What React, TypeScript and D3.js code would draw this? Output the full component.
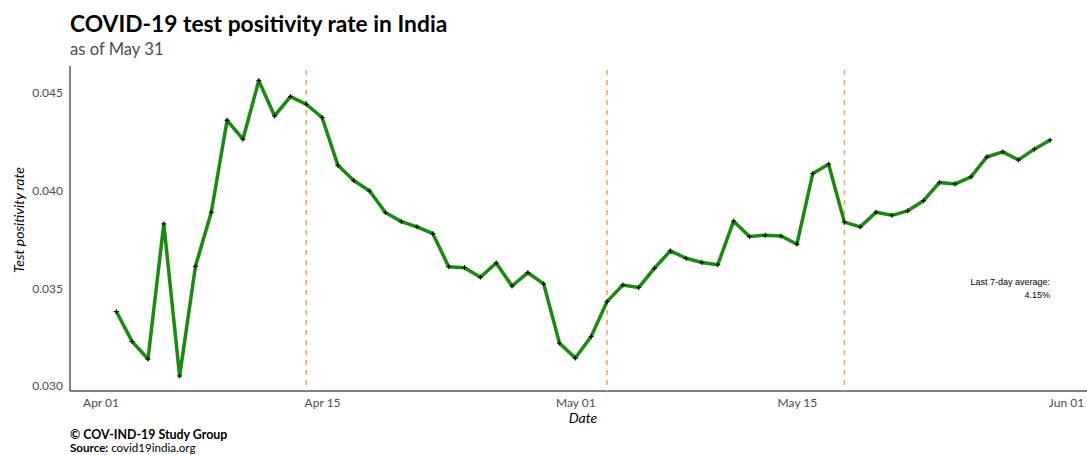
import * as d3 from 'd3';
import { useEffect, useRef } from 'react';

// daily test positivity, Apr 02 .. May 31
const startDate = '2020-04-02';
const positivity = [
  0.03381, 0.03227, 0.03138, 0.0383, 0.03051, 0.03613, 0.0389, 0.04361, 0.04264, 0.04564,
  0.04383, 0.04482, 0.04443, 0.04375, 0.0413, 0.04052, 0.03999, 0.03888, 0.03842, 0.03815,
  0.0378, 0.03611, 0.03606, 0.03557, 0.0363, 0.03512, 0.0358, 0.03523, 0.03219, 0.03143,
  0.03253, 0.03432, 0.03517, 0.03504, 0.03603, 0.03692, 0.03654, 0.03632, 0.03621, 0.03844,
  0.03765, 0.03772, 0.03768, 0.03726, 0.04088, 0.04136, 0.03839, 0.03815, 0.0389, 0.03874,
  0.03897, 0.03949, 0.04042, 0.04035, 0.04071, 0.04173, 0.04199, 0.04158, 0.04213, 0.0426,
];
const phaseDates = ['2020-04-14', '2020-05-03', '2020-05-18'];
const xTickDates = ['2020-04-01', '2020-04-15', '2020-05-01', '2020-05-15', '2020-06-01'];
const yTicks = [0.03, 0.035, 0.04, 0.045];

export default function App() {
  const ref = useRef<SVGSVGElement>(null);

  useEffect(() => {
    const width = 1087;
    const height = 455;
    const margin = { top: 66, right: 0, bottom: 64, left: 70 };
    const font = 'Lato, "Open Sans", sans-serif';

    const svg = d3.select(ref.current);
    svg.selectAll('*').remove();

    const parse = d3.timeParse('%Y-%m-%d');
    const start = parse(startDate) as Date;
    const data = positivity.map((v, i) => ({ date: d3.timeDay.offset(start, i), value: v }));

    const x = d3.scaleTime()
      .domain([parse('2020-04-01') as Date, parse('2020-06-01') as Date])
      .range([100.5, 1066]);

    const y = d3.scaleLinear()
      .domain([0.02974, 0.04639])
      .range([height - margin.bottom, margin.top]);

    // title + subtitle
    svg.append('text')
      .attr('x', 70).attr('y', 32)
      .attr('font-family', font).attr('font-weight', 700).attr('font-size', 22.8)
      .attr('fill', '#000')
      .text('COVID-19 test positivity rate in India');
    svg.append('text')
      .attr('x', 70).attr('y', 55)
      .attr('font-family', font).attr('font-size', 16.6)
      .attr('fill', '#4d4d4d')
      .text('as of May 31');

    // y axis
    const yAxis = svg.append('g')
      .attr('transform', `translate(${margin.left},0)`)
      .call(d3.axisLeft(y).tickValues(yTicks).tickFormat(d3.format('.3f')).tickSize(0).tickPadding(7));
    yAxis.select('.domain').remove();
    yAxis.selectAll('text')
      .attr('font-family', font).attr('font-size', 12).attr('fill', '#4d4d4d');

    // x axis
    const xAxis = svg.append('g')
      .attr('transform', `translate(0,${height - margin.bottom})`)
      .call(d3.axisBottom(x).tickValues(xTickDates.map(d => parse(d) as Date))
        .tickFormat(d3.timeFormat('%b %d') as any).tickSize(0).tickPadding(7));
    xAxis.select('.domain').remove();
    xAxis.selectAll('text')
      .attr('font-family', font).attr('font-size', 12).attr('fill', '#4d4d4d');

    // axis lines
    svg.append('line')
      .attr('x1', margin.left).attr('x2', margin.left)
      .attr('y1', margin.top).attr('y2', height - margin.bottom)
      .attr('stroke', '#000').attr('stroke-width', 1);
    svg.append('line')
      .attr('x1', margin.left).attr('x2', width)
      .attr('y1', height - margin.bottom).attr('y2', height - margin.bottom)
      .attr('stroke', '#000').attr('stroke-width', 1.2);

    // phase markers
    svg.selectAll('.phase')
      .data(phaseDates)
      .enter()
      .append('line')
      .attr('x1', d => x(parse(d) as Date)).attr('x2', d => x(parse(d) as Date))
      .attr('y1', 70).attr('y2', height - margin.bottom)
      .attr('stroke', '#f5a04a').attr('stroke-width', 1.5)
      .attr('stroke-dasharray', '5,5');

    // line
    const line = d3.line<{ date: Date; value: number }>()
      .x(d => x(d.date))
      .y(d => y(d.value));
    svg.append('path')
      .datum(data)
      .attr('d', line)
      .attr('fill', 'none')
      .attr('stroke', '#1a8a10')
      .attr('stroke-width', 3.5)
      .attr('stroke-linejoin', 'round');

    // point markers
    svg.selectAll('.pt')
      .data(data)
      .enter()
      .append('path')
      .attr('d', d => {
        const px = x(d.date), py = y(d.value);
        return `M${px - 2.5},${py}h5M${px},${py - 2.5}v5`;
      })
      .attr('stroke', '#000').attr('stroke-width', 1);

    // annotation
    svg.append('text')
      .attr('x', 1050).attr('y', 285)
      .attr('text-anchor', 'end')
      .attr('font-family', '"Liberation Sans", Arial, sans-serif').attr('font-size', 9)
      .attr('fill', '#000')
      .text('Last 7-day average:');
    svg.append('text')
      .attr('x', 1050).attr('y', 298)
      .attr('text-anchor', 'end')
      .attr('font-family', '"Liberation Sans", Arial, sans-serif').attr('font-size', 9)
      .attr('fill', '#000')
      .text('4.15%');

    // axis titles
    svg.append('text')
      .attr('x', 583).attr('y', 423)
      .attr('text-anchor', 'middle')
      .attr('font-family', font).attr('font-style', 'italic').attr('font-size', 14)
      .attr('fill', '#000')
      .text('Date');
    svg.append('text')
      .attr('transform', 'translate(24,220) rotate(-90)')
      .attr('text-anchor', 'middle')
      .attr('font-family', font).attr('font-style', 'italic').attr('font-size', 14)
      .attr('fill', '#000')
      .text('Test positivity rate');

    // footer
    svg.append('text')
      .attr('x', 70).attr('y', 439)
      .attr('font-family', font).attr('font-weight', 700).attr('font-size', 12.4)
      .attr('fill', '#000')
      .text('© COV-IND-19 Study Group');
    const src = svg.append('text')
      .attr('x', 70).attr('y', 451.5)
      .attr('font-family', font).attr('font-size', 11.6)
      .attr('fill', '#000');
    src.append('tspan').attr('font-weight', 700).text('Source: ');
    src.append('tspan').text('covid19india.org');
  }, []);

  return (
    <svg
      ref={ref}
      width={1087}
      height={455}
      style={{ position: 'absolute', left: 0, top: 0, background: '#fff' }}
    />
  );
}
